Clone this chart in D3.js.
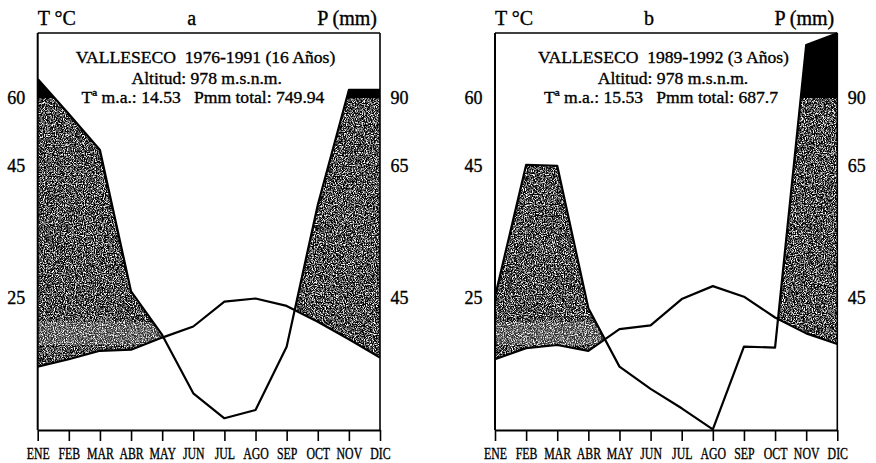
<!DOCTYPE html>
<html>
<head>
<meta charset="utf-8">
<script src="https://cdn.jsdelivr.net/npm/d3@7"></script>
<style>
body { margin: 0; background: #fff; }
text { font-family: "Liberation Serif", "Times New Roman", serif; fill: #000; stroke: #000; stroke-width: 0.35px; }
</style>
</head>
<body>
<svg id="chart" width="876" height="463"></svg>
<script>
// monthly data
var months = ["ENE", "FEB", "MAR", "ABR", "MAY", "JUN", "JUL", "AGO", "SEP", "OCT", "NOV", "DIC"];

// a: 1976-1991
var tempA = [12.0, 13.4, 15.0, 15.2, 17.5, 19.6, 24.3, 24.9, 23.5, 20.5, 17.2, 13.7];
var precA = [106.8, 84.1, 70.9, 46.0, 32.4, 12.5, 4.0, 6.8, 28.4, 59.1, 97.1, 97.1];

// b: 1989-1992
var tempB = [13.4, 15.5, 16.1, 15.0, 19.1, 19.8, 24.8, 26.8, 25.2, 21.3, 18.3, 16.3];
var precB = [45.2, 65.4, 65.1, 41.5, 21.6, 14.0, 7.4, 0.2, 28.4, 28.1, 136.7, 147.1];

var infoA = ["VALLESECO\u00a0\u00a01976-1991 (16 Años)", "Altitud: 978 m.s.n.m.", "Tª m.a.: 14.53\u00a0\u00a0\u00a0Pmm total: 749.94"];
var infoB = ["VALLESECO\u00a0\u00a01989-1992 (3 Años)", "Altitud: 978 m.s.n.m.", "Tª m.a.: 15.53\u00a0\u00a0\u00a0Pmm total: 687.7"];

var tempTicks = [25, 45, 60];
var precTicks = [45, 65, 90];
var precLimit = 90; // above this the humid area is drawn black

var plotTop = 33, plotBottom = 430;

// the original axes are not linear, so the scales are piecewise
var tempScale = d3.scaleLinear()
    .domain([0, 25, 45, 60])
    .range([plotBottom, 298, 166, 98]);
var precScale = d3.scaleLinear()
    .domain([0, 45, 65, 90, 150])
    .range([plotBottom, 298, 166, 98, 30]);

var svg = d3.select("#chart");

// grainy grey like the scanned fill
var defs = svg.append("defs");
var grain = defs.append("filter").attr("id", "grain")
    .attr("x", 0).attr("y", 0).attr("width", 1).attr("height", 1)
    .attr("color-interpolation-filters", "sRGB");
grain.append("feTurbulence")
    .attr("type", "fractalNoise")
    .attr("baseFrequency", 0.9)
    .attr("numOctaves", 3)
    .attr("seed", 4)
    .attr("result", "noise");
grain.append("feColorMatrix")
    .attr("in", "noise")
    .attr("type", "matrix")
    .attr("values", "3.2 0 0 0 -1.3  3.2 0 0 0 -1.3  3.2 0 0 0 -1.3  0 0 0 0 1")
    .attr("result", "grey");
grain.append("feComposite")
    .attr("in", "grey").attr("in2", "SourceGraphic").attr("operator", "in");

function drawPanel(p) {
    var x = d3.scalePoint().domain(months).range([p.x0, p.x1]);
    var rows = months.map(function (m, i) {
        return { month: m, temp: p.temp[i], prec: p.prec[i] };
    });

    // clip: above the temperature line, below the precipitation line
    var aboveTemp = d3.area()
        .x(function (d) { return x(d.month); })
        .y0(0)
        .y1(function (d) { return tempScale(d.temp); });
    var belowPrec = d3.area()
        .x(function (d) { return x(d.month); })
        .y0(plotBottom)
        .y1(function (d) { return precScale(d.prec); });

    defs.append("clipPath").attr("id", "aboveT" + p.id)
        .append("path").attr("d", aboveTemp(rows));
    defs.append("clipPath").attr("id", "belowP" + p.id)
        .append("path").attr("d", belowPrec(rows));

    var humid = svg.append("g")
        .attr("clip-path", "url(#aboveT" + p.id + ")")
        .append("g")
        .attr("clip-path", "url(#belowP" + p.id + ")");

    humid.append("rect")
        .attr("x", p.x0).attr("y", plotTop)
        .attr("width", p.x1 - p.x0).attr("height", plotBottom - plotTop)
        .attr("fill", "#555")
        .attr("filter", "url(#grain)");

    // lighter strip left by the scan
    humid.append("rect")
        .attr("x", p.x0).attr("y", 322)
        .attr("width", x("JUN") - p.x0).attr("height", 23)
        .attr("fill", "#fff")
        .attr("fill-opacity", 0.18);

    humid.append("rect")
        .attr("x", p.x0).attr("y", 0)
        .attr("width", p.x1 - p.x0).attr("height", precScale(precLimit))
        .attr("fill", "#000");

    var line = d3.line().x(function (d) { return x(d.month); });

    svg.append("path")
        .datum(rows)
        .attr("d", line.y(function (d) { return tempScale(d.temp); }))
        .attr("fill", "none")
        .attr("stroke", "#000")
        .attr("stroke-width", 2.2)
        .attr("stroke-linejoin", "round");

    svg.append("path")
        .datum(rows)
        .attr("d", line.y(function (d) { return precScale(d.prec); }))
        .attr("fill", "none")
        .attr("stroke", "#000")
        .attr("stroke-width", 2.2)
        .attr("stroke-linejoin", "round");

    // frame
    svg.append("line")
        .attr("x1", p.x0).attr("x2", p.x1).attr("y1", plotTop).attr("y2", plotTop)
        .attr("stroke", "#000").attr("stroke-width", 1.4);
    svg.append("line")
        .attr("x1", p.x0).attr("x2", p.x0).attr("y1", plotTop).attr("y2", plotBottom)
        .attr("stroke", "#000").attr("stroke-width", 2);
    svg.append("line")
        .attr("x1", p.x1).attr("x2", p.x1).attr("y1", plotTop).attr("y2", plotBottom)
        .attr("stroke", "#000").attr("stroke-width", 1.6);

    // month axis
    var xAxis = svg.append("g")
        .attr("transform", "translate(0," + plotBottom + ")")
        .call(d3.axisBottom(x).tickSizeInner(11).tickSizeOuter(0).tickPadding(7));
    xAxis.select(".domain").attr("stroke-width", 2);
    xAxis.selectAll(".tick line").attr("stroke-width", 1.6);
    xAxis.selectAll("text")
        .style("font-family", "Liberation Serif, serif")
        .style("font-size", "16px")
        .attr("transform", "scale(0.74,1)");

    // left temperature labels, right precipitation labels
    var yLeft = svg.append("g")
        .attr("transform", "translate(" + p.x0 + ",0)")
        .call(d3.axisLeft(tempScale).tickValues(tempTicks).tickSize(0).tickPadding(12.5));
    var yRight = svg.append("g")
        .attr("transform", "translate(" + p.x1 + ",0)")
        .call(d3.axisRight(precScale).tickValues(precTicks).tickSize(0).tickPadding(10.5));
    [yLeft, yRight].forEach(function (ax) {
        ax.select(".domain").remove();
        ax.selectAll("text")
            .style("font-family", "Liberation Serif, serif")
            .style("font-size", "18px");
    });

    // headers
    svg.append("text")
        .attr("x", p.x0).attr("y", 25)
        .style("font-size", "20px")
        .text("T °C");
    svg.append("text")
        .attr("x", p.x0 + 154).attr("y", 25)
        .attr("text-anchor", "middle")
        .style("font-size", "20px")
        .text(p.letter);
    svg.append("text")
        .attr("x", p.x1 - 3).attr("y", 25)
        .attr("text-anchor", "end")
        .style("font-size", "20px")
        .text("P (mm)");

    svg.selectAll(null)
        .data(p.info)
        .enter()
        .append("text")
        .attr("x", function (d, i) { return p.infoX[i]; })
        .attr("y", function (d, i) { return [63, 83.5, 103][i]; })
        .attr("text-anchor", "middle")
        .style("font-size", "17.6px")
        .text(function (d) { return d; });
}

drawPanel({ id: "a", letter: "a", x0: 37.7, x1: 380, temp: tempA, prec: precA,
            info: infoA, infoX: [205.5, 206.7, 203] });
drawPanel({ id: "b", letter: "b", x0: 495, x1: 837.3, temp: tempB, prec: precB,
            info: infoB, infoX: [663.5, 673, 661] });
</script>
</body>
</html>
